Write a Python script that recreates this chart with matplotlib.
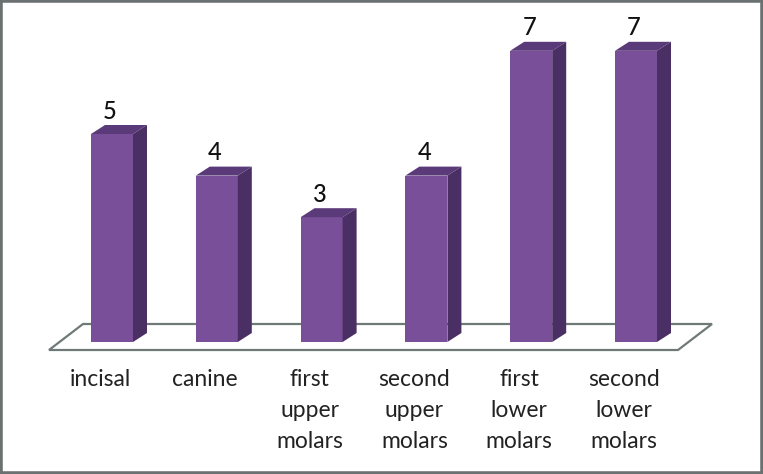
import matplotlib
matplotlib.use('Agg')
import matplotlib.pyplot as plt
from matplotlib.patches import Polygon, Rectangle

# 데이터
categories = ['incisal', 'canine', 'first\nupper\nmolars', 'second\nupper\nmolars',
              'first\nlower\nmolars', 'second\nlower\nmolars']
values = [5, 4, 3, 4, 7, 7]

plt.rcParams['font.family'] = ['Lato', 'DejaVu Sans']

W, H = 763, 474
x_step = 104.8   # 막대 간격 (px)
y_step = 41.6    # 값 1 당 높이 (px)
x0_px, y0_px = 112, 342

fig = plt.figure(figsize=(W / 100, H / 100), dpi=100)
ax = fig.add_axes([0, 0, 1, 1])
ax.set_xlim(-x0_px / x_step, (W - x0_px) / x_step)
ax.set_ylim((y0_px - H) / y_step, y0_px / y_step)
ax.axis('off')

# 바닥 평면
dx_px = lambda p: p / x_step
dy_px = lambda p: p / y_step
floor = [(dx_px(49 - x0_px), dy_px(y0_px - 350)), (dx_px(678 - x0_px), dy_px(y0_px - 350)),
         (dx_px(712 - x0_px), dy_px(y0_px - 324)), (dx_px(83 - x0_px), dy_px(y0_px - 324))]
ax.add_patch(Polygon(floor, closed=True, facecolor='white', edgecolor='#6f7a78', lw=1.6, zorder=1))

# 3D 막대
half = dx_px(21)
depth_x = dx_px(14)
depth_y = dy_px(9)
for i, v in enumerate(values):
    ax.bar(i, v, width=half * 2, color='#7a4f9a', zorder=3)
    top = [(i - half, v), (i + half, v), (i + half + depth_x, v + depth_y), (i - half + depth_x, v + depth_y)]
    side = [(i + half, 0), (i + half + depth_x, depth_y), (i + half + depth_x, v + depth_y), (i + half, v)]
    ax.add_patch(Polygon(top, closed=True, facecolor='#5a3a78', edgecolor='none', zorder=3))
    ax.add_patch(Polygon(side, closed=True, facecolor='#4a2f64', edgecolor='none', zorder=3))
    ax.annotate(str(v), (i, v), xytext=(-2 * 0.72, 23 * 0.72), textcoords='offset points',
                ha='center', va='center', fontsize=17, fontweight='medium', color='#111111')
    ax.annotate(categories[i], (i, 0), xytext=(-12 * 0.72, -27 * 0.72), textcoords='offset points',
                ha='center', va='top', fontsize=16.5, color='#222222', linespacing=1.6)

# 외곽 테두리
fig.add_artist(Rectangle((0, 0), 1, 1, transform=fig.transFigure, fill=False,
                         edgecolor='#6b7070', lw=4))

fig.savefig('out.png', dpi=100)
